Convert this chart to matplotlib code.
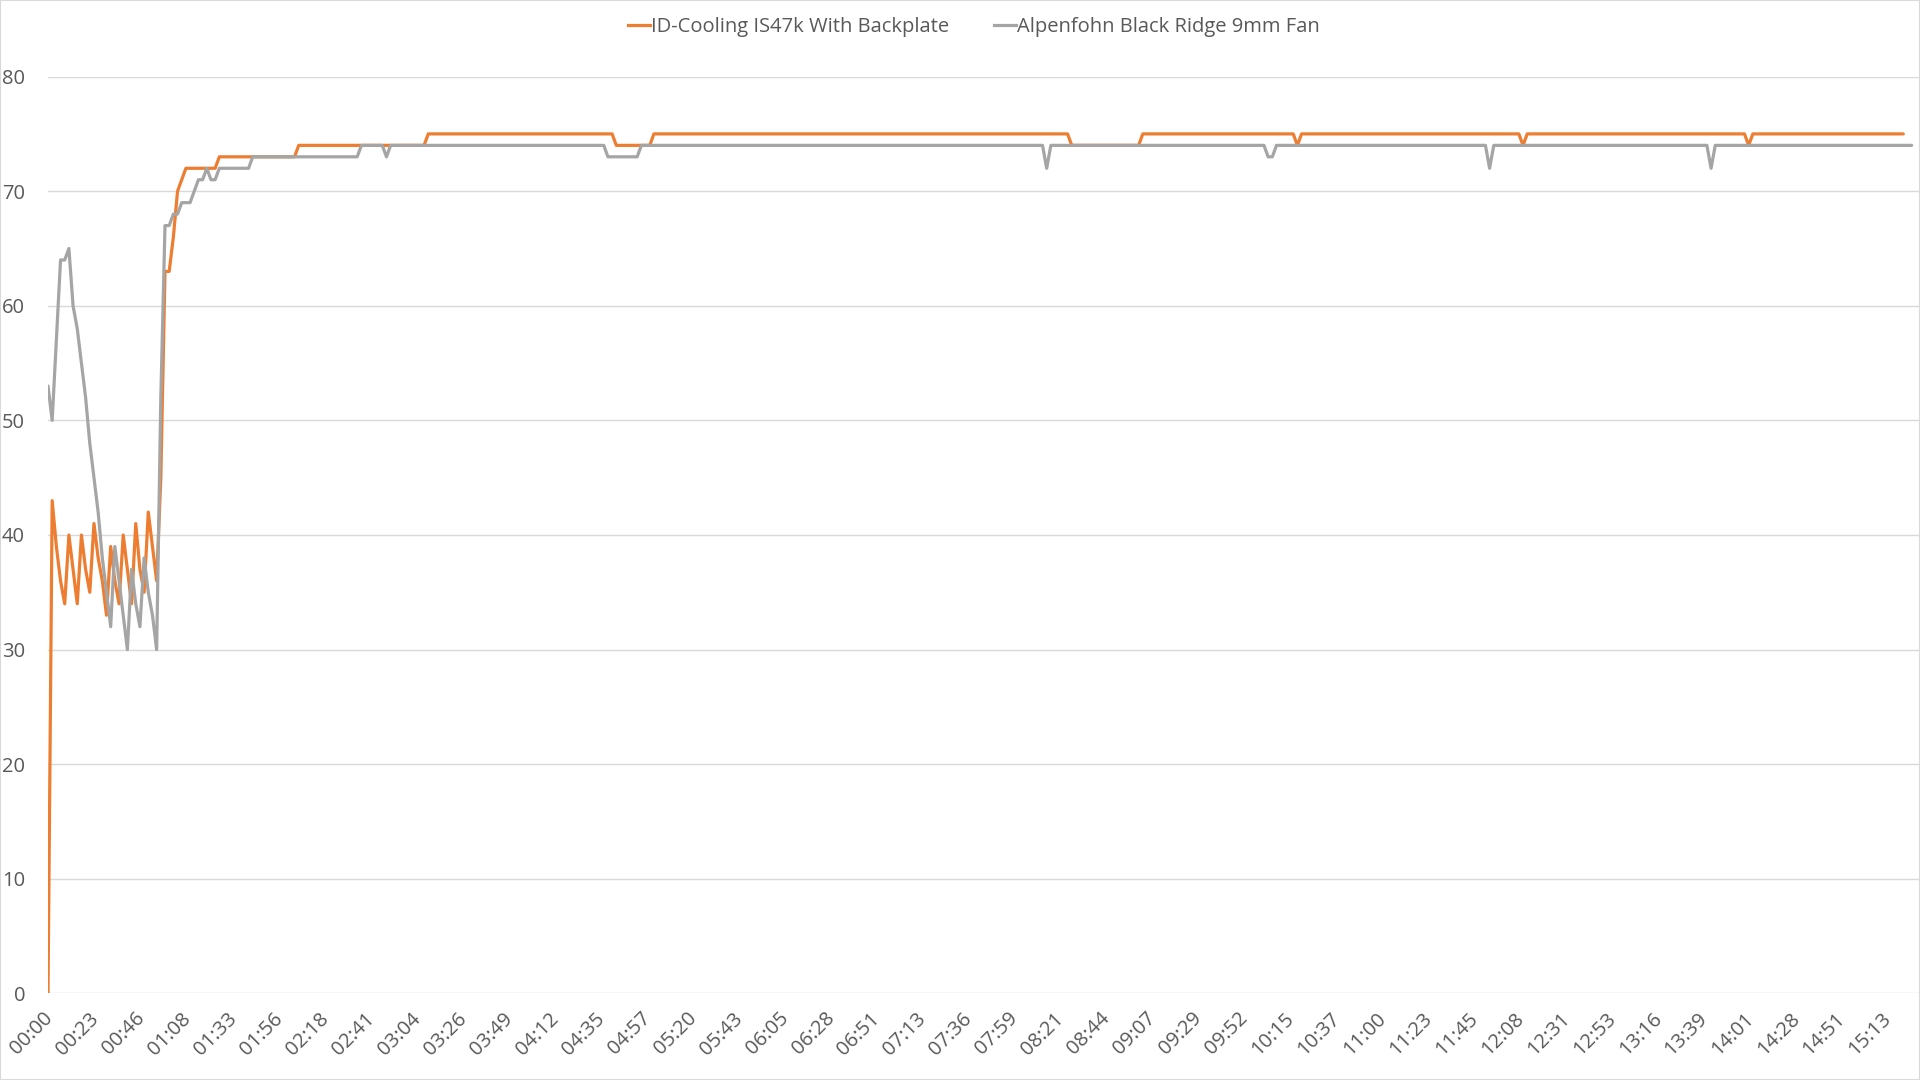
import matplotlib
matplotlib.use("Agg")
import matplotlib.pyplot as plt
from matplotlib.patches import Rectangle
from matplotlib.lines import Line2D
from matplotlib.transforms import ScaledTranslation

plt.rcParams['font.family'] = ['Open Sans', 'DejaVu Sans']

# ---------------- data ----------------
series_names = ["ID-Cooling IS47k With Backplate", "Alpenfohn Black Ridge 9mm Fan"]

# first samples written out one by one, then (value, number of samples) runs
idcooling_head = [0, 43, 39, 36, 34, 40, 37, 34, 40, 37, 35, 41, 38, 36, 33, 39, 36,
                  34, 40, 37, 34, 41, 37, 35, 42, 39, 36, 45, 63, 63, 66, 70, 71]
idcooling_runs = [(72, 8), (73, 19), (74, 31), (75, 45), (74, 9), (75, 100), (74, 17),
                  (75, 37), (74, 1), (75, 53), (74, 1), (75, 53), (74, 1), (75, 37)]

alpenfohn_head = [53, 50, 57, 64, 64, 65, 60, 58, 55, 52, 48, 45, 42, 38, 35, 32, 39,
                  36, 33, 30, 37, 34, 32, 38, 35, 33, 30, 52, 67, 67, 68, 68, 69, 69,
                  69, 70, 71, 71, 72, 71, 71]
alpenfohn_runs = [(72, 8), (73, 26), (74, 6), (73, 1), (74, 52), (73, 8), (74, 97),
                  (72, 1), (74, 52), (73, 2), (74, 51), (72, 1), (74, 52), (72, 1), (74, 48)]

time_labels = ["00:00", "00:23", "00:46", "01:08", "01:33", "01:56", "02:18", "02:41",
               "03:04", "03:26", "03:49", "04:12", "04:35", "04:57", "05:20", "05:43",
               "06:05", "06:28", "06:51", "07:13", "07:36", "07:59", "08:21", "08:44",
               "09:07", "09:29", "09:52", "10:15", "10:37", "11:00", "11:23", "11:45",
               "12:08", "12:31", "12:53", "13:16", "13:39", "14:01", "14:28", "14:51",
               "15:13"]
label_every = 11          # one time label every 11 samples
n_categories = 448
y_ticks = [0, 10, 20, 30, 40, 50, 60, 70, 80]


def expand(head, runs):
    vals = list(head)
    for v, n in runs:
        vals.extend([v] * n)
    return vals


idcooling = expand(idcooling_head, idcooling_runs)
alpenfohn = expand(alpenfohn_head, alpenfohn_runs)

# ---------------- figure ----------------
W, H = 1920, 1080
FS = 14.5
fig = plt.figure(figsize=(W / 100, H / 100), dpi=100)
fig.patch.set_facecolor('white')

ax_left, ax_right = 48, 1920
ax_top, ax_bottom = 76.6, 993.4
ax = fig.add_axes([ax_left / W, 1 - ax_bottom / H, (ax_right - ax_left) / W,
                   (ax_bottom - ax_top) / H])

ORANGE = '#ED7D31'
GRAY = '#A5A5A5'
TEXT = '#595959'
GRID = '#D9D9D9'

ax.plot(range(len(idcooling)), idcooling, color=ORANGE, lw=2.3,
        solid_joinstyle='round', solid_capstyle='round', zorder=3)
ax.plot(range(len(alpenfohn)), alpenfohn, color=GRAY, lw=2.3,
        solid_joinstyle='round', solid_capstyle='round', zorder=4)

ax.set_xlim(0, n_categories)
ax.set_ylim(0, 80)
ax.set_yticks(y_ticks)
ax.yaxis.grid(True, color=GRID, lw=1.0)
ax.set_axisbelow(True)
for s in ax.spines.values():
    s.set_visible(False)

ax.tick_params(axis='y', length=0, pad=16.5, labelsize=FS, labelcolor=TEXT)
ax.tick_params(axis='x', length=0, pad=16, labelsize=FS, labelcolor=TEXT)

ax.set_xticks([i * label_every for i in range(len(time_labels))])
ax.set_xticklabels(time_labels, rotation=45, ha='right', va='center',
                   rotation_mode='anchor')
offset = ScaledTranslation(2 / 100, 0, fig.dpi_scale_trans)
for lab in ax.get_xticklabels():
    lab.set_transform(lab.get_transform() + offset)

handles = [Line2D([], [], color=ORANGE, lw=2.3), Line2D([], [], color=GRAY, lw=2.3)]
fig.legend(handles, series_names, loc='upper center',
           bbox_to_anchor=(974 / W, 1 - 3 / H), ncol=2, frameon=False,
           borderpad=0.2, handlelength=1.1, handletextpad=0.05, columnspacing=2.2,
           fontsize=FS, labelcolor=TEXT)

fig.patches.append(Rectangle((0, 0), 1, 1, transform=fig.transFigure, fill=False,
                             edgecolor=GRID, lw=1.5))

fig.savefig('out.png', dpi=100)
